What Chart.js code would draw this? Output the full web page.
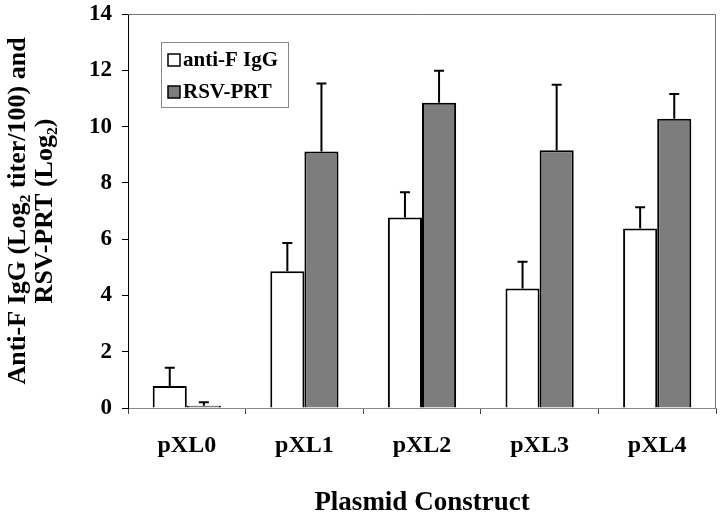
<!DOCTYPE html>
<html>
<head>
<meta charset="utf-8">
<script src="https://cdn.jsdelivr.net/npm/chart.js@4"></script>
<style>
  html, body { margin: 0; padding: 0; background: #fff; }
  #wrap { width: 720px; height: 517px; }
</style>
</head>
<body>
<div id="wrap"><canvas id="grafica" width="720" height="517"></canvas></div>
<script>
// Datos
const constructs = ['pXL0', 'pXL1', 'pXL2', 'pXL3', 'pXL4'];
const antiF = [0.78, 4.86, 6.77, 4.25, 6.38];
const antiFErr = [0.65, 1.0, 0.9, 0.95, 0.75];
const rsvPrt = [0.08, 9.11, 10.85, 9.16, 10.28];
const rsvPrtErr = [0.12, 2.42, 1.13, 2.33, 0.88];
const yTicks = [0, 2, 4, 6, 8, 10, 12, 14];

const serif = '"Liberation Serif", "DejaVu Serif", serif';

// Barras de error (solo hacia arriba, con tope)
const errorBars = {
    id: 'errorBars',
    afterDatasetsDraw(chart) {
        const ctx = chart.ctx;
        const y = chart.scales.y;
        const errs = [antiFErr, rsvPrtErr];
        ctx.save();
        ctx.strokeStyle = '#000';
        ctx.lineWidth = 2;
        chart.data.datasets.forEach((ds, i) => {
            const meta = chart.getDatasetMeta(i);
            meta.data.forEach((bar, j) => {
                const top = y.getPixelForValue(ds.data[j] + errs[i][j]);
                ctx.beginPath();
                ctx.moveTo(bar.x, bar.y);
                ctx.lineTo(bar.x, top);
                ctx.moveTo(bar.x - 5, top);
                ctx.lineTo(bar.x + 5, top);
                ctx.stroke();
            });
        });
        ctx.restore();
    }
};

// Marco superior y derecho + leyenda
const marco = {
    id: 'marco',
    afterDraw(chart) {
        const ctx = chart.ctx;
        const a = chart.chartArea;
        ctx.save();
        ctx.strokeStyle = '#777';
        ctx.lineWidth = 1;
        ctx.beginPath();
        ctx.moveTo(a.left, a.top + 0.5);
        ctx.lineTo(a.right - 0.5, a.top + 0.5);
        ctx.lineTo(a.right - 0.5, a.bottom);
        ctx.stroke();

        // Leyenda
        const lx = 161, ly = 42, lw = 127, lh = 65;
        ctx.strokeStyle = '#888';
        ctx.strokeRect(lx + 0.5, ly + 0.5, lw, lh);
        const items = [
            { text: 'anti-F IgG', fill: '#fff' },
            { text: 'RSV-PRT', fill: '#7d7d7d' }
        ];
        ctx.font = 'bold 21px ' + serif;
        ctx.textBaseline = 'middle';
        items.forEach((it, k) => {
            const cy = ly + 18 + k * 32;
            ctx.fillStyle = it.fill;
            ctx.fillRect(lx + 7, cy - 6, 12, 12);
            ctx.strokeStyle = '#000';
            ctx.lineWidth = 1.5;
            ctx.strokeRect(lx + 7, cy - 6, 12, 12);
            ctx.fillStyle = '#000';
            ctx.fillText(it.text, lx + 22, cy + 1);
        });
        ctx.restore();
    }
};

new Chart(document.getElementById('grafica'), {
    type: 'bar',
    data: {
        labels: constructs,
        datasets: [
            {
                label: 'anti-F IgG',
                data: antiF,
                backgroundColor: '#ffffff',
                borderColor: '#000',
                borderWidth: 2
            },
            {
                label: 'RSV-PRT',
                data: rsvPrt,
                backgroundColor: '#7d7d7d',
                borderColor: '#000',
                borderWidth: 2
            }
        ]
    },
    options: {
        responsive: false,
        animation: false,
        layout: { padding: { top: 0, right: 4, left: 0, bottom: 0 } },
        plugins: {
            legend: { display: false },
            tooltip: { enabled: false }
        },
        datasets: {
            bar: { categoryPercentage: 0.58, barPercentage: 1.0 }
        },
        scales: {
            x: {
                afterFit(scale) { scale.height = 109; },
                grid: { drawOnChartArea: false, drawTicks: true, tickLength: 6, color: '#444', offset: true },
                border: { color: '#888', width: 1 },
                ticks: {
                    color: '#000',
                    padding: 17,
                    font: { family: serif, size: 24, weight: 'bold' }
                },
                title: {
                    display: true,
                    text: 'Plasmid Construct',
                    color: '#000',
                    padding: { top: 30, bottom: 0 },
                    font: { family: serif, size: 27, weight: 'bold', lineHeight: 1.05 }
                }
            },
            y: {
                min: 0,
                max: 14,
                afterFit(scale) {
                    scale.width = 128;
                    scale.paddingTop = 14;
                    scale.paddingBottom = 0;
                },
                afterBuildTicks(scale) { scale.ticks = yTicks.map(v => ({ value: v })); },
                grid: { drawOnChartArea: false, drawTicks: true, tickLength: 6, color: '#000' },
                border: { color: '#000', width: 1 },
                ticks: {
                    color: '#000',
                    padding: 10,
                    font: { family: serif, size: 23, weight: 'bold' }
                },
                title: {
                    display: true,
                    text: ['Anti-F IgG (Log\u2082 titer/100) and', 'RSV-PRT (Log\u2082)'],
                    color: '#000',
                    padding: { top: 5, bottom: 0 },
                    font: { family: serif, size: 26, weight: 'bold', lineHeight: 1.04 }
                }
            }
        }
    },
    plugins: [errorBars, marco]
});
</script>
</body>
</html>
